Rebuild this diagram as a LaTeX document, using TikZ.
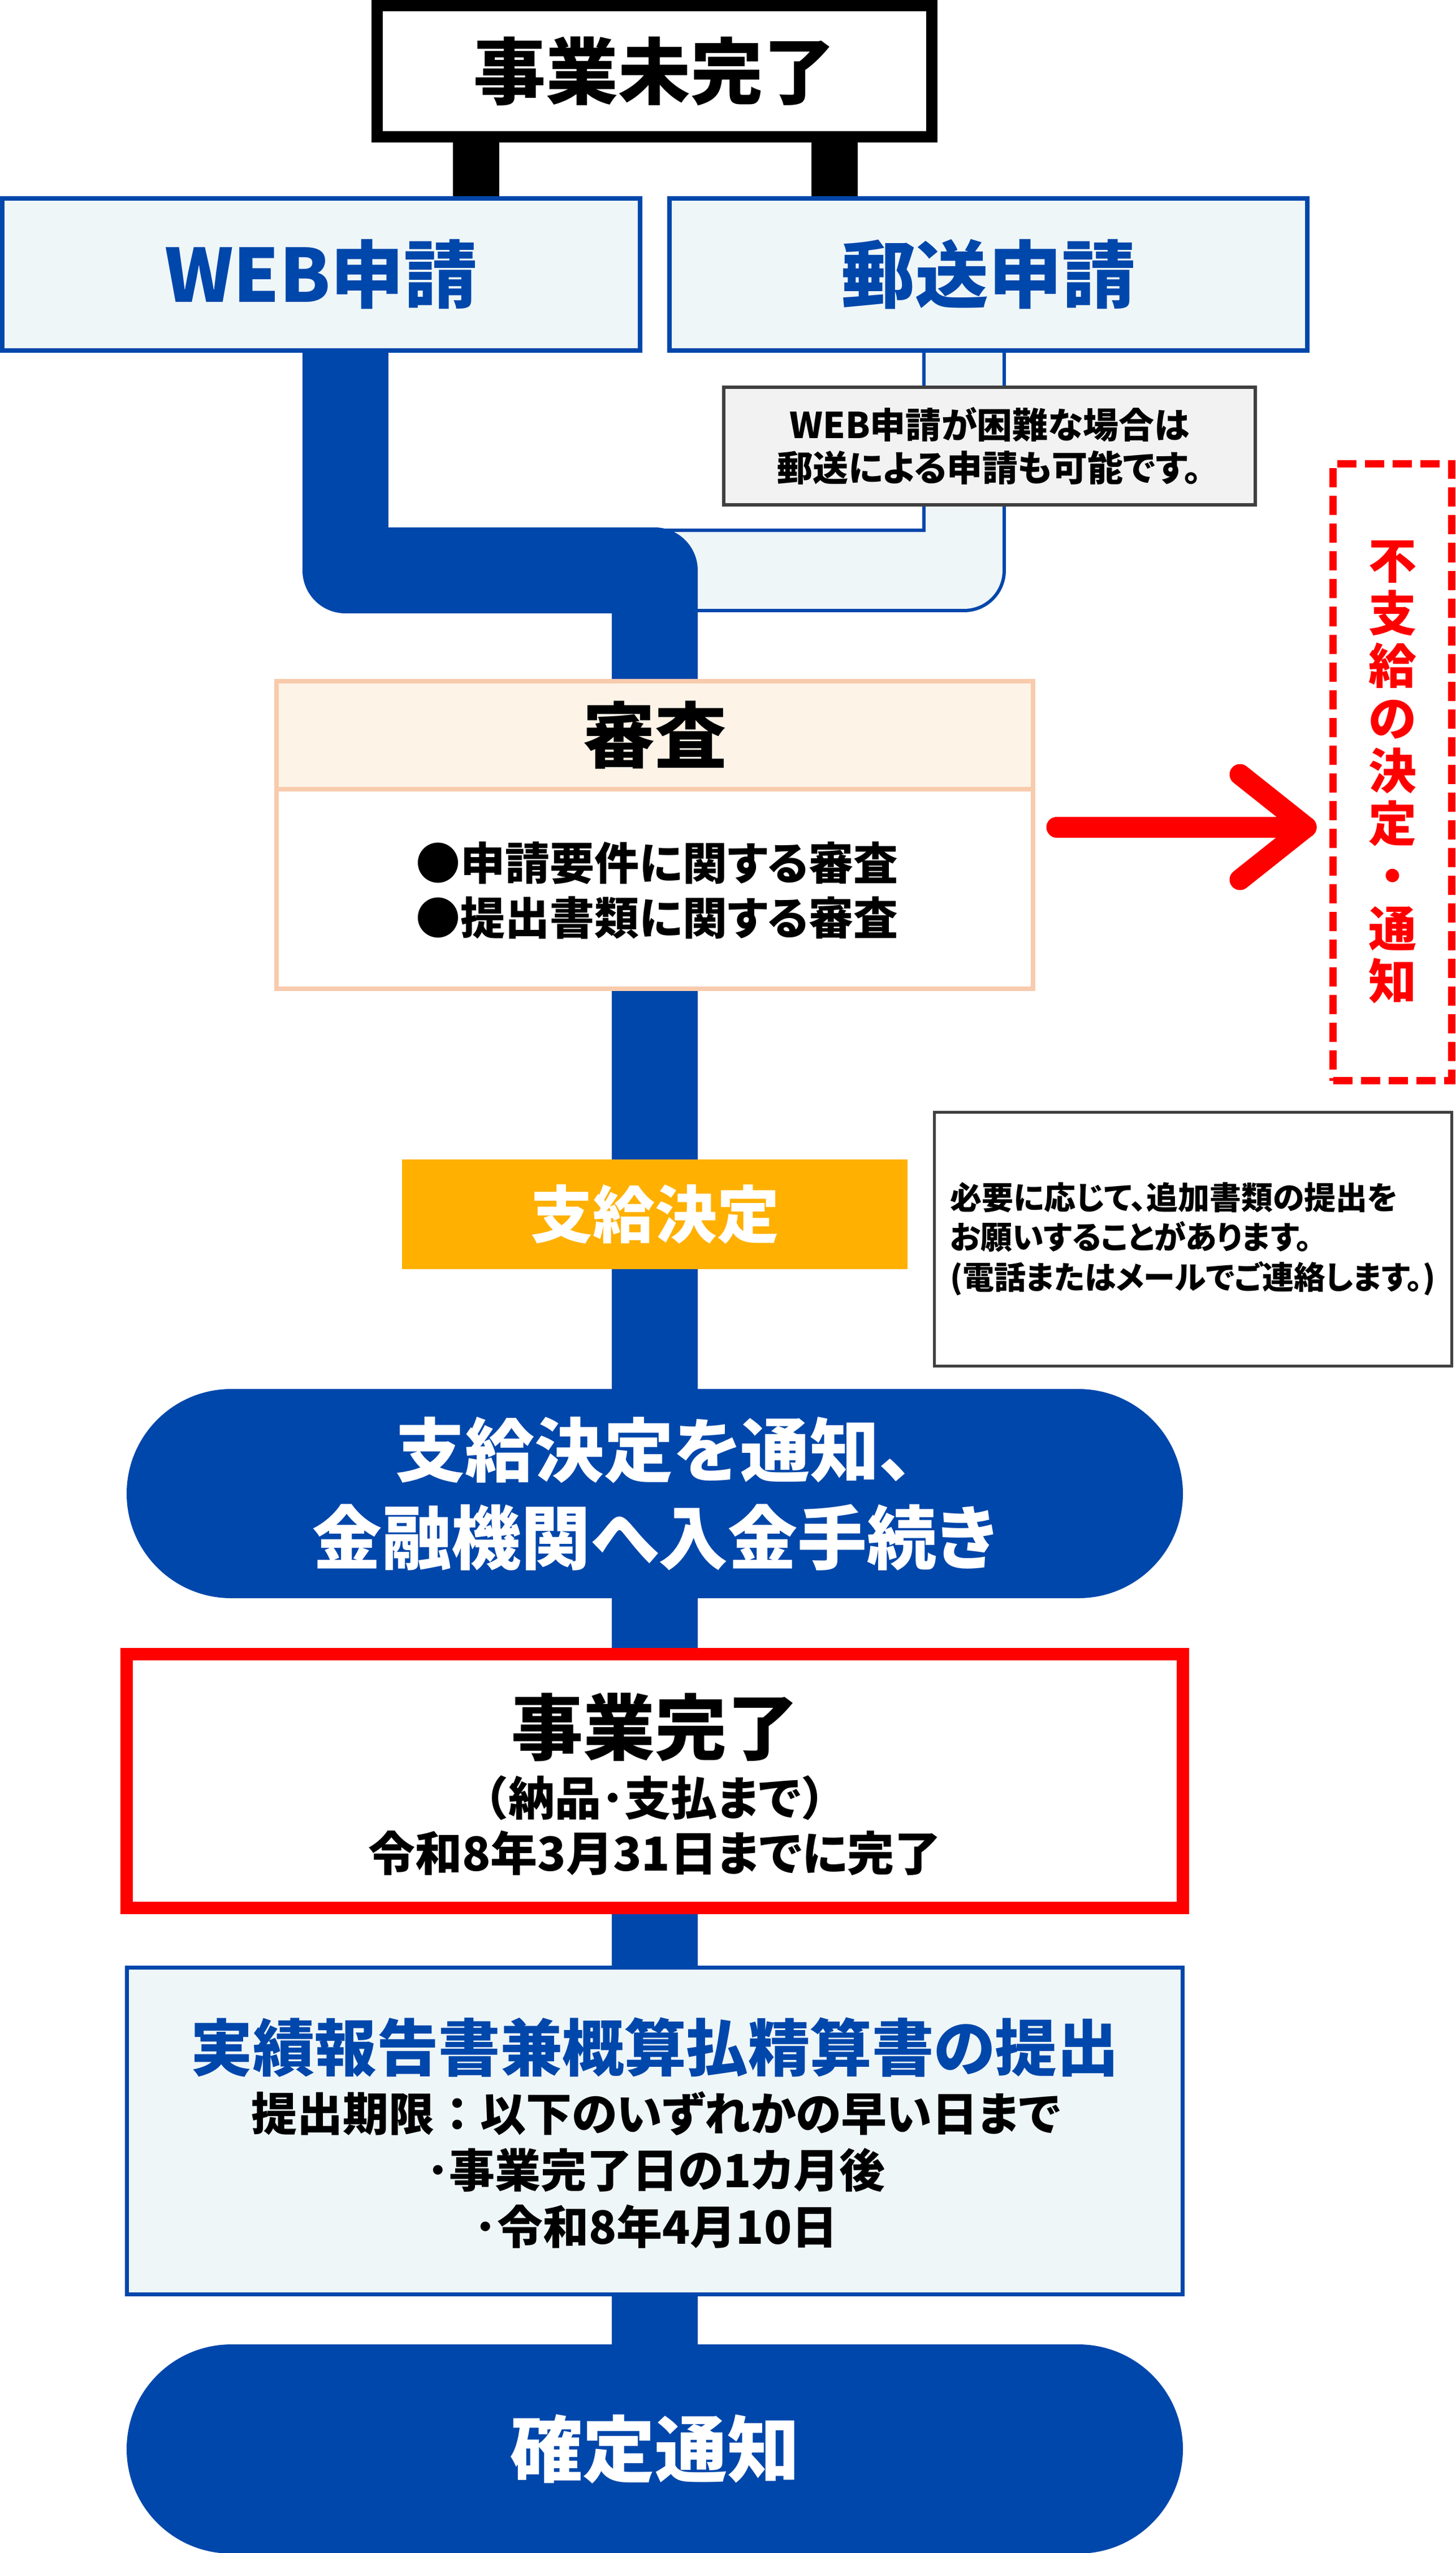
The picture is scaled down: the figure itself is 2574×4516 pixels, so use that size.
\documentclass[tikz,border=0pt]{standalone}
\usepackage{fontspec}
\setmainfont{Noto Sans CJK JP}[RawFeature=+palt]
\newfontfamily\jpfull{Noto Sans CJK JP}
\usetikzlibrary{calc}
\pgfdeclarelayer{bg}
\pgfsetlayers{bg,main}
\definecolor{dblue}{HTML}{0047AB}
\definecolor{lblue}{HTML}{EEF6F8}
\definecolor{peach}{HTML}{F8CBAD}
\definecolor{cream}{HTML}{FDF3E7}
\definecolor{amber}{HTML}{FFB000}
\definecolor{dgray}{HTML}{404040}
\definecolor{lgray}{HTML}{F2F2F2}
\definecolor{rred}{HTML}{FF0000}
\newcommand\myfs[2]{\fontsize{#1pt}{#2pt}\selectfont\bfseries}
\begin{document}
\begin{tikzpicture}[x=0.2pt,y=-0.2pt,
  every node/.style={inner sep=0pt, outer sep=0pt},
  trunk/.style={draw=dblue, line width=30.4pt, line join=round},
  connblack/.style={draw=black, line width=16.4pt},
  lightband/.style={draw=dblue, line width=1.2pt, double=lblue, double distance=27.2pt, line join=round},
  redarrow/.style={draw=rred, line width=7.4pt, line cap=round, line join=round},
  pill/.style={fill=dblue, rounded corners=37pt, minimum width=373.6pt, minimum height=74pt, text=white, align=center},
  bluebox/.style={draw=dblue, fill=lblue},
]
\useasboundingbox (0,0) rectangle (2574,4516);

% ---------- nodes ----------
\node[draw=black, line width=4pt, fill=white, minimum width=196.2pt, minimum height=46.4pt, font=\myfs{25.6}{30}] (top) at (1157.5,126) {事業未完了};
\node[bluebox, line width=1.6pt, minimum width=225.6pt, minimum height=53.8pt, text=dblue, font=\myfs{26}{30}] (web) at (568,485.5) {WEB申請};
\node[bluebox, line width=1.6pt, minimum width=225.6pt, minimum height=53.8pt, text=dblue, font=\myfs{26}{30}] (mail) at (1748,485.5) {郵送申請};
\node[draw=dgray, line width=1.2pt, fill=lgray, minimum width=188pt, minimum height=41.6pt, align=center, font=\myfs{12.6}{15.2}] (note1) at (1750,789) {WEB申請が困難な場合は\\郵送による申請も可能です。};
\node[draw=rred, line width=2.6pt, dash pattern=on 6.8pt off 3pt, minimum width=42pt, minimum height=218.2pt, text=rred, align=center, font=\myfs{17}{18.6}] (fushi) at (2462.5,1366) {不\\支\\給\\の\\決\\定\\・\\通\\知};

\node[draw=peach, line width=1.6pt, fill=white, minimum width=267.6pt, minimum height=108.8pt] (shinsa) at (1158,1477) {};
\node[draw=peach, line width=1.6pt, fill=cream, minimum width=267.6pt, minimum height=38.2pt, anchor=north, font=\myfs{25.4}{30}] (shinsahead) at (shinsa.north) {審査};
\node[align=center, font=\myfs{15.8}{19.4}] (shinsabody) at (1162,1575.5) {●申請要件に関する審査\\●提出書類に関する審査};

\node[fill=amber, minimum width=178.8pt, minimum height=38.8pt, text=white, font=\myfs{22}{26}] (kettei) at (1158,2148) {支給決定};
\node[draw=dgray, line width=1pt, fill=white, minimum width=183pt, minimum height=89.8pt, align=left, font=\myfs{11.2}{14.1}] (note2) at (2109.5,2191.5) {必要に応じて、追加書類の提出を\\お願いすることがあります。\\(電話またはメールでご連絡します。)};

\node[pill, font=\myfs{24.6}{31}] (pill1) at (1158,2642) {支給決定を通知、\\金融機関へ入金手続き};

\node[draw=rred, line width=4.4pt, fill=white, minimum width=373.4pt, minimum height=89.8pt] (kanryo) at (1158,3150.5) {};
\node[font=\myfs{25.4}{30}] (kanryo1) at (1158,3055) {事業完了};
\node[font=\myfs{16.4}{20}] (kanryo2) at (1158,3180) {{\jpfull\bfseries （}納品･支払まで{\jpfull\bfseries ）}};
\node[font=\myfs{16.6}{20}] (kanryo3) at (1158,3278) {令和8年3月31日までに完了};

\node[bluebox, line width=1.4pt, minimum width=373.4pt, minimum height=115.6pt] (jisseki) at (1158,3769.5) {};
\node[text=dblue, font=\myfs{21.9}{26}] (jisseki1) at (1158,3622) {実績報告書兼概算払精算書の提出};
\node[align=center, font=\myfs{16.2}{20}] (jisseki2) at (1160,3838) {提出期限{\jpfull\bfseries ：}以下のいずれかの早い日まで\\･事業完了日の1カ月後\\･令和8年4月10日};

\node[pill, font=\myfs{25.6}{30}] (kakutei) at (1158,4332) {確定通知};

% ---------- connectors ----------
\coordinate (j) at (1158,1009);
\coordinate (wx) at (611,0);
\coordinate (mx) at (1705,0);
\coordinate (c1) at (842,0);
\coordinate (c2) at (1476,0);
\begin{pgfonlayer}{bg}
\draw[connblack] (c1 |- top.south) -- (c1 |- web.north);
\draw[connblack] (c2 |- top.south) -- (c2 |- mail.north);
\draw[lightband] (mx |- mail.south) -- (mx |- j) -- (j);
\draw[trunk] (wx |- web.south) -- (wx |- j) -- (j) -- (shinsa.north);
\draw[trunk] (shinsa.south) -- (kettei.north);
\draw[trunk] (kettei.south) -- (pill1.north);
\draw[trunk] (pill1.south) -- (kanryo.north);
\draw[trunk] (kanryo.south) -- (jisseki.north);
\draw[trunk] (jisseki.south) -- (kakutei.north);
\end{pgfonlayer}

\coordinate (arrtip) at (2310,1463);
\draw[redarrow, shorten <=8.4pt] (shinsa.east |- arrtip) -- (arrtip);
\draw[redarrow] ($(arrtip)+(-117,-93)$) -- (arrtip) -- ($(arrtip)+(-117,93)$);
\end{tikzpicture}
\end{document}
